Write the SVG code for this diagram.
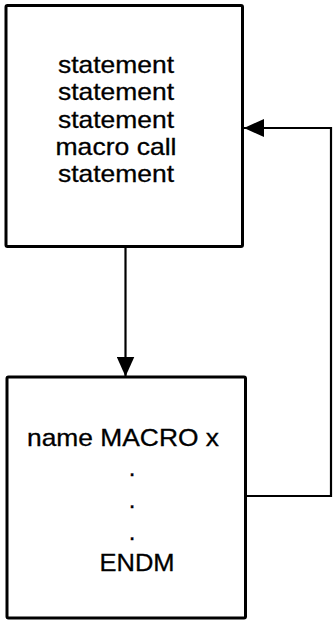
<svg xmlns="http://www.w3.org/2000/svg" width="333" height="622" viewBox="0 0 333 622">
  <style>
    .box { fill: #fff; stroke: #000; stroke-width: 3; }
    .wire { fill: none; stroke: #000; stroke-width: 2.2; }
    .lbl { font-family: "Liberation Sans", Arial, sans-serif; font-size: 24px; fill: #000; stroke: #000; stroke-width: 0.3; text-anchor: middle; }
  </style>
  <defs>
    <marker id="head" viewBox="0 0 20 18" refX="20" refY="9" markerWidth="20" markerHeight="18" markerUnits="userSpaceOnUse" orient="auto">
      <path d="M0,0 L20,9 L0,18 Z" fill="#000"/>
    </marker>
  </defs>

  <!-- calling program -->
  <g id="program">
    <rect class="box" x="6" y="5.5" width="236.5" height="241" rx="1.5"/>
    <text class="lbl" x="116" y="73" textLength="116" lengthAdjust="spacingAndGlyphs">statement</text>
    <text class="lbl" x="116" y="100.3" textLength="116" lengthAdjust="spacingAndGlyphs">statement</text>
    <text class="lbl" x="116" y="127.6" textLength="116" lengthAdjust="spacingAndGlyphs">statement</text>
    <text class="lbl" x="116" y="154.9" textLength="121" lengthAdjust="spacingAndGlyphs">macro call</text>
    <text class="lbl" x="116" y="182.2" textLength="116" lengthAdjust="spacingAndGlyphs">statement</text>
  </g>

  <!-- macro definition -->
  <g id="macro">
    <rect class="box" x="7" y="377" width="238.5" height="241" rx="1.5"/>
    <text class="lbl" x="123" y="446" textLength="192" lengthAdjust="spacingAndGlyphs">name MACRO x</text>
    <text class="lbl" x="132" y="476">.</text>
    <text class="lbl" x="132" y="508">.</text>
    <text class="lbl" x="132" y="540">.</text>
    <text class="lbl" x="137" y="571" textLength="75" lengthAdjust="spacingAndGlyphs">ENDM</text>
  </g>

  <!-- connectors -->
  <g id="connectors">
    <path class="wire" d="M125.5,248 L125.5,376.5" marker-end="url(#head)"/>
    <path class="wire" d="M246,496 L331,496 L331,128 L244,128" marker-end="url(#head)"/>
  </g>
</svg>
